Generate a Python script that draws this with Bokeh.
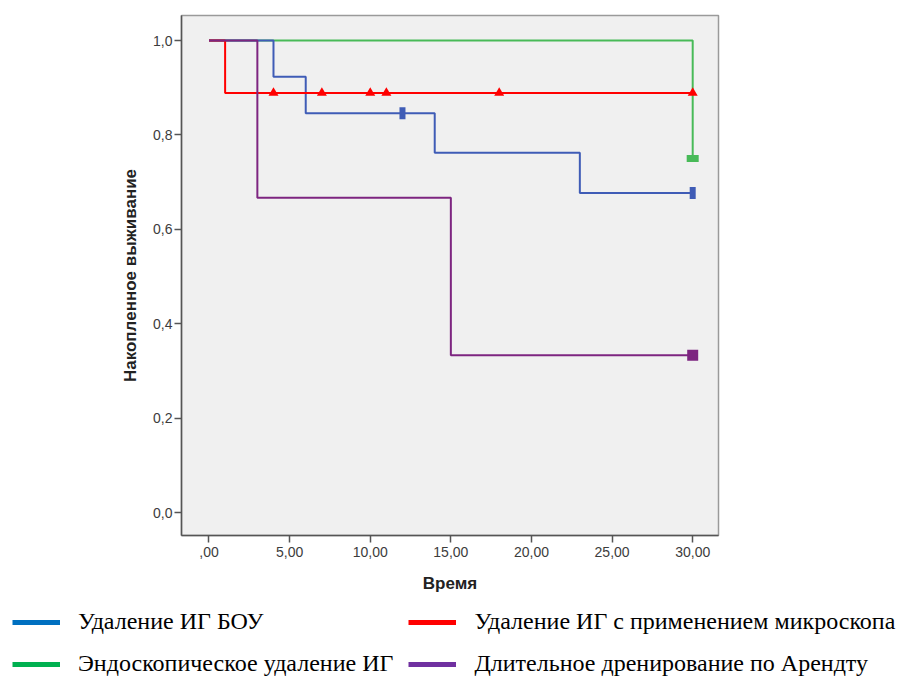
from bokeh.plotting import figure
from bokeh.models import Range1d, FixedTicker, Legend, LegendItem
from bokeh.embed import file_html
from bokeh.resources import INLINE

# ---- data ----
boy_t = [0, 4, 6, 14, 23, 30]
boy_s = [1.0, 0.923, 0.846, 0.762, 0.677, 0.677]
boy_cens_t = [12, 30]
boy_cens_s = [0.846, 0.677]

micro_t = [0, 1, 30]
micro_s = [1.0, 0.889, 0.889]
micro_cens_t = [4, 7, 10, 11, 18, 30]
micro_cens_s = [0.889, 0.889, 0.889, 0.889, 0.889, 0.889]

endo_t = [0, 30]
endo_s = [1.0, 0.75]
endo_cens_t = [30]
endo_cens_s = [0.75]

arendt_t = [0, 3, 15, 30]
arendt_s = [1.0, 0.667, 0.333, 0.333]
arendt_cens_t = [30]
arendt_cens_s = [0.333]

x_ticks = [0, 5, 10, 15, 20, 25, 30]
x_tick_labels = [",00", "5,00", "10,00", "15,00", "20,00", "25,00", "30,00"]
y_ticks = [0.0, 0.2, 0.4, 0.6, 0.8, 1.0]
y_tick_labels = ["0,0", "0,2", "0,4", "0,6", "0,8", "1,0"]

labels = ["Удаление ИГ БОУ", "Удаление ИГ с применением микроскопа",
          "Эндоскопическое удаление ИГ", "Длительное дренирование по Арендту"]

# ---- styles ----
C_BOY, C_MICRO, C_ENDO, C_AR = "#3F5CB6", "#FF0000", "#48BA58", "#7D2580"
L_BOY, L_MICRO, L_ENDO, L_AR = "#0070C0", "#FF0000", "#00B050", "#7030A0"

p = figure(width=900, height=605, output_backend="svg", toolbar_location=None,
           x_range=Range1d(-1.705, 31.6), y_range=Range1d(-0.0487, 1.053),
           min_border_left=181, min_border_right=182, min_border_top=15,
           min_border_bottom=70)
p.background_fill_color = "#F0F0F0"
p.border_fill_color = "white"
p.outline_line_color = "#9A9A9A"
p.outline_line_width = 1.5
p.xgrid.visible = False
p.ygrid.visible = False

for ax in (p.xaxis[0], p.yaxis[0]):
    ax.axis_line_color = "#555555"
    ax.axis_line_width = 1.5
    ax.major_tick_line_color = "#555555"
    ax.major_tick_line_width = 1.5
    ax.major_tick_out = 7
    ax.major_tick_in = 0
    ax.minor_tick_line_color = None
    ax.major_label_text_font = "Liberation Sans"
    ax.major_label_text_font_size = "14px"
    ax.major_label_text_color = "#3C3C3C"
    ax.axis_label_text_font = "Liberation Sans"
    ax.axis_label_text_font_style = "bold"
    ax.axis_label_text_font_size = "17px"
    ax.axis_label_text_color = "#222222"

p.xaxis.ticker = FixedTicker(ticks=x_ticks)
p.xaxis.major_label_overrides = dict(zip(x_ticks, x_tick_labels))
p.yaxis.ticker = FixedTicker(ticks=y_ticks)
p.yaxis.major_label_overrides = dict(zip(y_ticks, y_tick_labels))
p.xaxis.axis_label = "Время"
p.yaxis.axis_label = "Накопленное выживание"
p.xaxis.major_label_standoff = 4
p.yaxis.major_label_standoff = 2
p.xaxis.axis_label_standoff = 14
p.yaxis.axis_label_standoff = 10

# ---- curves ----
p.step(endo_t, endo_s, mode="after", line_color=C_ENDO, line_width=2)
p.step(boy_t, boy_s, mode="after", line_color=C_BOY, line_width=2)
p.step(micro_t, micro_s, mode="after", line_color=C_MICRO, line_width=2)
p.step(arendt_t, arendt_s, mode="after", line_color=C_AR, line_width=2)

# censor marks
p.rect(boy_cens_t, boy_cens_s, width=6, height=12, width_units="screen",
       height_units="screen", fill_color=C_BOY, line_color=None)
p.scatter(micro_cens_t, micro_cens_s, marker="triangle", size=10,
          fill_color=C_MICRO, line_color=None)
p.rect(endo_cens_t, endo_cens_s, width=12, height=7, width_units="screen",
       height_units="screen", fill_color=C_ENDO, line_color=None)
p.rect(arendt_cens_t, arendt_cens_s, width=11, height=11, width_units="screen",
       height_units="screen", fill_color=C_AR, line_color=None)

# ---- legend strip (separate root, so it is not frame-aligned) ----
lg = figure(width=900, height=72, output_backend="svg", toolbar_location=None,
            x_axis_location=None, y_axis_location=None,
            x_range=Range1d(-1.705, 31.6), y_range=Range1d(-0.0487, 1.053),
            min_border_left=0, min_border_right=0, min_border_top=0,
            min_border_bottom=0)
lg.outline_line_color = None
lg.xgrid.visible = False
lg.ygrid.visible = False
lg.background_fill_color = "white"
lg.border_fill_color = "white"

series = [(boy_t, boy_s, L_BOY), (micro_t, micro_s, L_MICRO),
          (endo_t, endo_s, L_ENDO), (arendt_t, arendt_s, L_AR)]
items = []
for lab, (xs, ys, col) in zip(labels, series):
    r = lg.line(xs, ys, line_color=col, line_width=5, visible=False)
    items.append(LegendItem(label=lab, renderers=[r]))

legend = Legend(items=items, orientation="horizontal", ncols=2,
                location=(12, 0),
                label_text_font="Liberation Serif", label_text_font_size="24px",
                label_text_color="black",
                glyph_width=48, glyph_height=26, label_height=26,
                label_standoff=18, label_width=312, spacing=15,
                padding=0, margin=0, border_line_color=None,
                background_fill_alpha=0)
lg.add_layout(legend, "center")

open("out.html", "w").write(file_html([p, lg], INLINE))
